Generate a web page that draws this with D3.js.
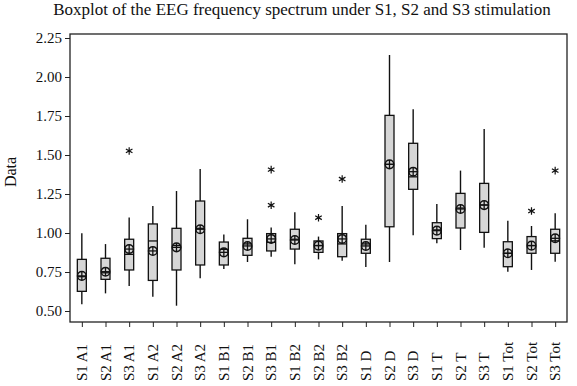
<!DOCTYPE html>
<html><head><meta charset="utf-8">
<script src="https://cdn.jsdelivr.net/npm/d3@7"></script>
<style>body{margin:0;background:#fff}svg{display:block}text{font-family:"Liberation Serif","DejaVu Serif",serif;fill:#111}</style>
</head><body><svg id="c" width="577" height="386"></svg>
<script>
const categories = ["S1 A1","S2 A1","S3 A1","S1 A2","S2 A2","S3 A2","S1 B1","S2 B1","S3 B1","S1 B2","S2 B2","S3 B2","S1 D","S2 D","S3 D","S1 T","S2 T","S3 T","S1 Tot","S2 Tot","S3 Tot"];
const whiskerLow  = [0.543,0.613,0.660,0.592,0.534,0.710,0.769,0.814,0.848,0.800,0.831,0.822,0.782,0.814,0.985,0.934,0.891,0.906,0.752,0.763,0.816];
const q1          = [0.626,0.703,0.763,0.696,0.763,0.795,0.795,0.857,0.885,0.897,0.876,0.848,0.870,1.040,1.280,0.964,1.032,1.004,0.784,0.870,0.870];
const median      = [0.720,0.745,0.863,0.949,0.920,1.030,0.895,0.930,0.940,0.960,0.920,0.930,0.930,1.440,1.360,1.020,1.160,1.180,0.870,0.920,0.950];
const q3          = [0.831,0.838,0.960,1.058,1.030,1.205,0.942,0.966,0.996,1.024,0.949,0.996,0.960,1.754,1.575,1.066,1.254,1.318,0.944,0.977,1.024];
const whiskerHigh = [0.998,0.929,1.100,1.173,1.269,1.410,0.990,1.088,1.036,1.133,0.977,1.173,1.053,2.141,1.793,1.186,1.400,1.667,1.079,1.045,1.126];
const means       = [0.725,0.752,0.897,0.885,0.908,1.024,0.876,0.917,0.962,0.955,0.919,0.962,0.917,1.440,1.393,1.015,1.154,1.179,0.870,0.919,0.966];
const outliers    = [[],[],[1.526],[],[],[],[],[],[1.406,1.178],[],[1.098],[1.346],[],[],[],[],[],[],[],[1.141],[1.400]];
const yTicks = [0.50,0.75,1.00,1.25,1.50,1.75,2.00,2.25];
const title = "Boxplot of the EEG frequency spectrum under S1, S2 and S3 stimulation";

const svg = d3.select("#c");
const L=70, R=567, T=34, B=322;
const x = d3.scalePoint().domain(categories).range([L,R]).padding(0.5);
const y = d3.scaleLinear().domain([0.5,2.25]).range([311,38]);

svg.append("text").attr("x",302).attr("y",15).attr("text-anchor","middle").attr("font-size",17).text(title);

// frame
svg.append("rect").attr("x",L).attr("y",T).attr("width",R-L).attr("height",B-T).attr("fill","none").attr("stroke","#222").attr("stroke-width",1.3);

// y axis
const ya = svg.append("g").attr("transform",`translate(${L},0)`).call(d3.axisLeft(y).tickValues(yTicks).tickFormat(d3.format(".2f")).tickSize(5).tickPadding(3));
ya.select(".domain").remove();
ya.selectAll("line").attr("stroke","#222");
ya.selectAll("text").attr("font-size",15).attr("fill","#111").style("font-family","Liberation Serif");

// x axis
const xa = svg.append("g").attr("transform",`translate(0,${B})`).call(d3.axisBottom(x).tickSize(5).tickFormat(""));
xa.select(".domain").remove();
xa.selectAll("line").attr("stroke","#222");
svg.append("g").selectAll("text").data(categories).join("text")
  .attr("transform",d=>`translate(${x(d)+5},381) rotate(-90)`)
  .attr("text-anchor","start").attr("font-size",15).text(d=>d);

svg.append("text").attr("transform","translate(16,172) rotate(-90)").attr("text-anchor","middle").attr("font-size",16).text("Data");

const bw=9;
const g = svg.append("g");
categories.forEach((c,i)=>{
  const cx=x(c);
  g.append("line").attr("x1",cx).attr("x2",cx).attr("y1",y(whiskerHigh[i])).attr("y2",y(q3[i])).attr("stroke","#111").attr("stroke-width",1.4);
  g.append("line").attr("x1",cx).attr("x2",cx).attr("y1",y(q1[i])).attr("y2",y(whiskerLow[i])).attr("stroke","#111").attr("stroke-width",1.4);
  g.append("rect").attr("x",cx-bw/2).attr("y",y(q3[i])).attr("width",bw).attr("height",y(q1[i])-y(q3[i])).attr("fill","#d6d6d6").attr("stroke","#111").attr("stroke-width",1.3);
  g.append("line").attr("x1",cx-bw/2).attr("x2",cx+bw/2).attr("y1",y(median[i])).attr("y2",y(median[i])).attr("stroke","#111").attr("stroke-width",1.3);
  const my=y(means[i]);
  g.append("circle").attr("cx",cx).attr("cy",my).attr("r",4.3).attr("fill","none").attr("stroke","#111").attr("stroke-width",1.5);
  g.append("line").attr("x1",cx-4.3).attr("x2",cx+4.3).attr("y1",my).attr("y2",my).attr("stroke","#111").attr("stroke-width",1.3);
  g.append("line").attr("x1",cx).attr("x2",cx).attr("y1",my-4.3).attr("y2",my+4.3).attr("stroke","#111").attr("stroke-width",1.3);
  outliers[i].forEach(o=>{
    g.append("path").attr("transform",`translate(${cx},${y(o)})`).attr("d",d3.symbol(d3.symbolAsterisk,40)()).attr("fill","none").attr("stroke","#111").attr("stroke-width",1.2);
  });
});
</script></body></html>
